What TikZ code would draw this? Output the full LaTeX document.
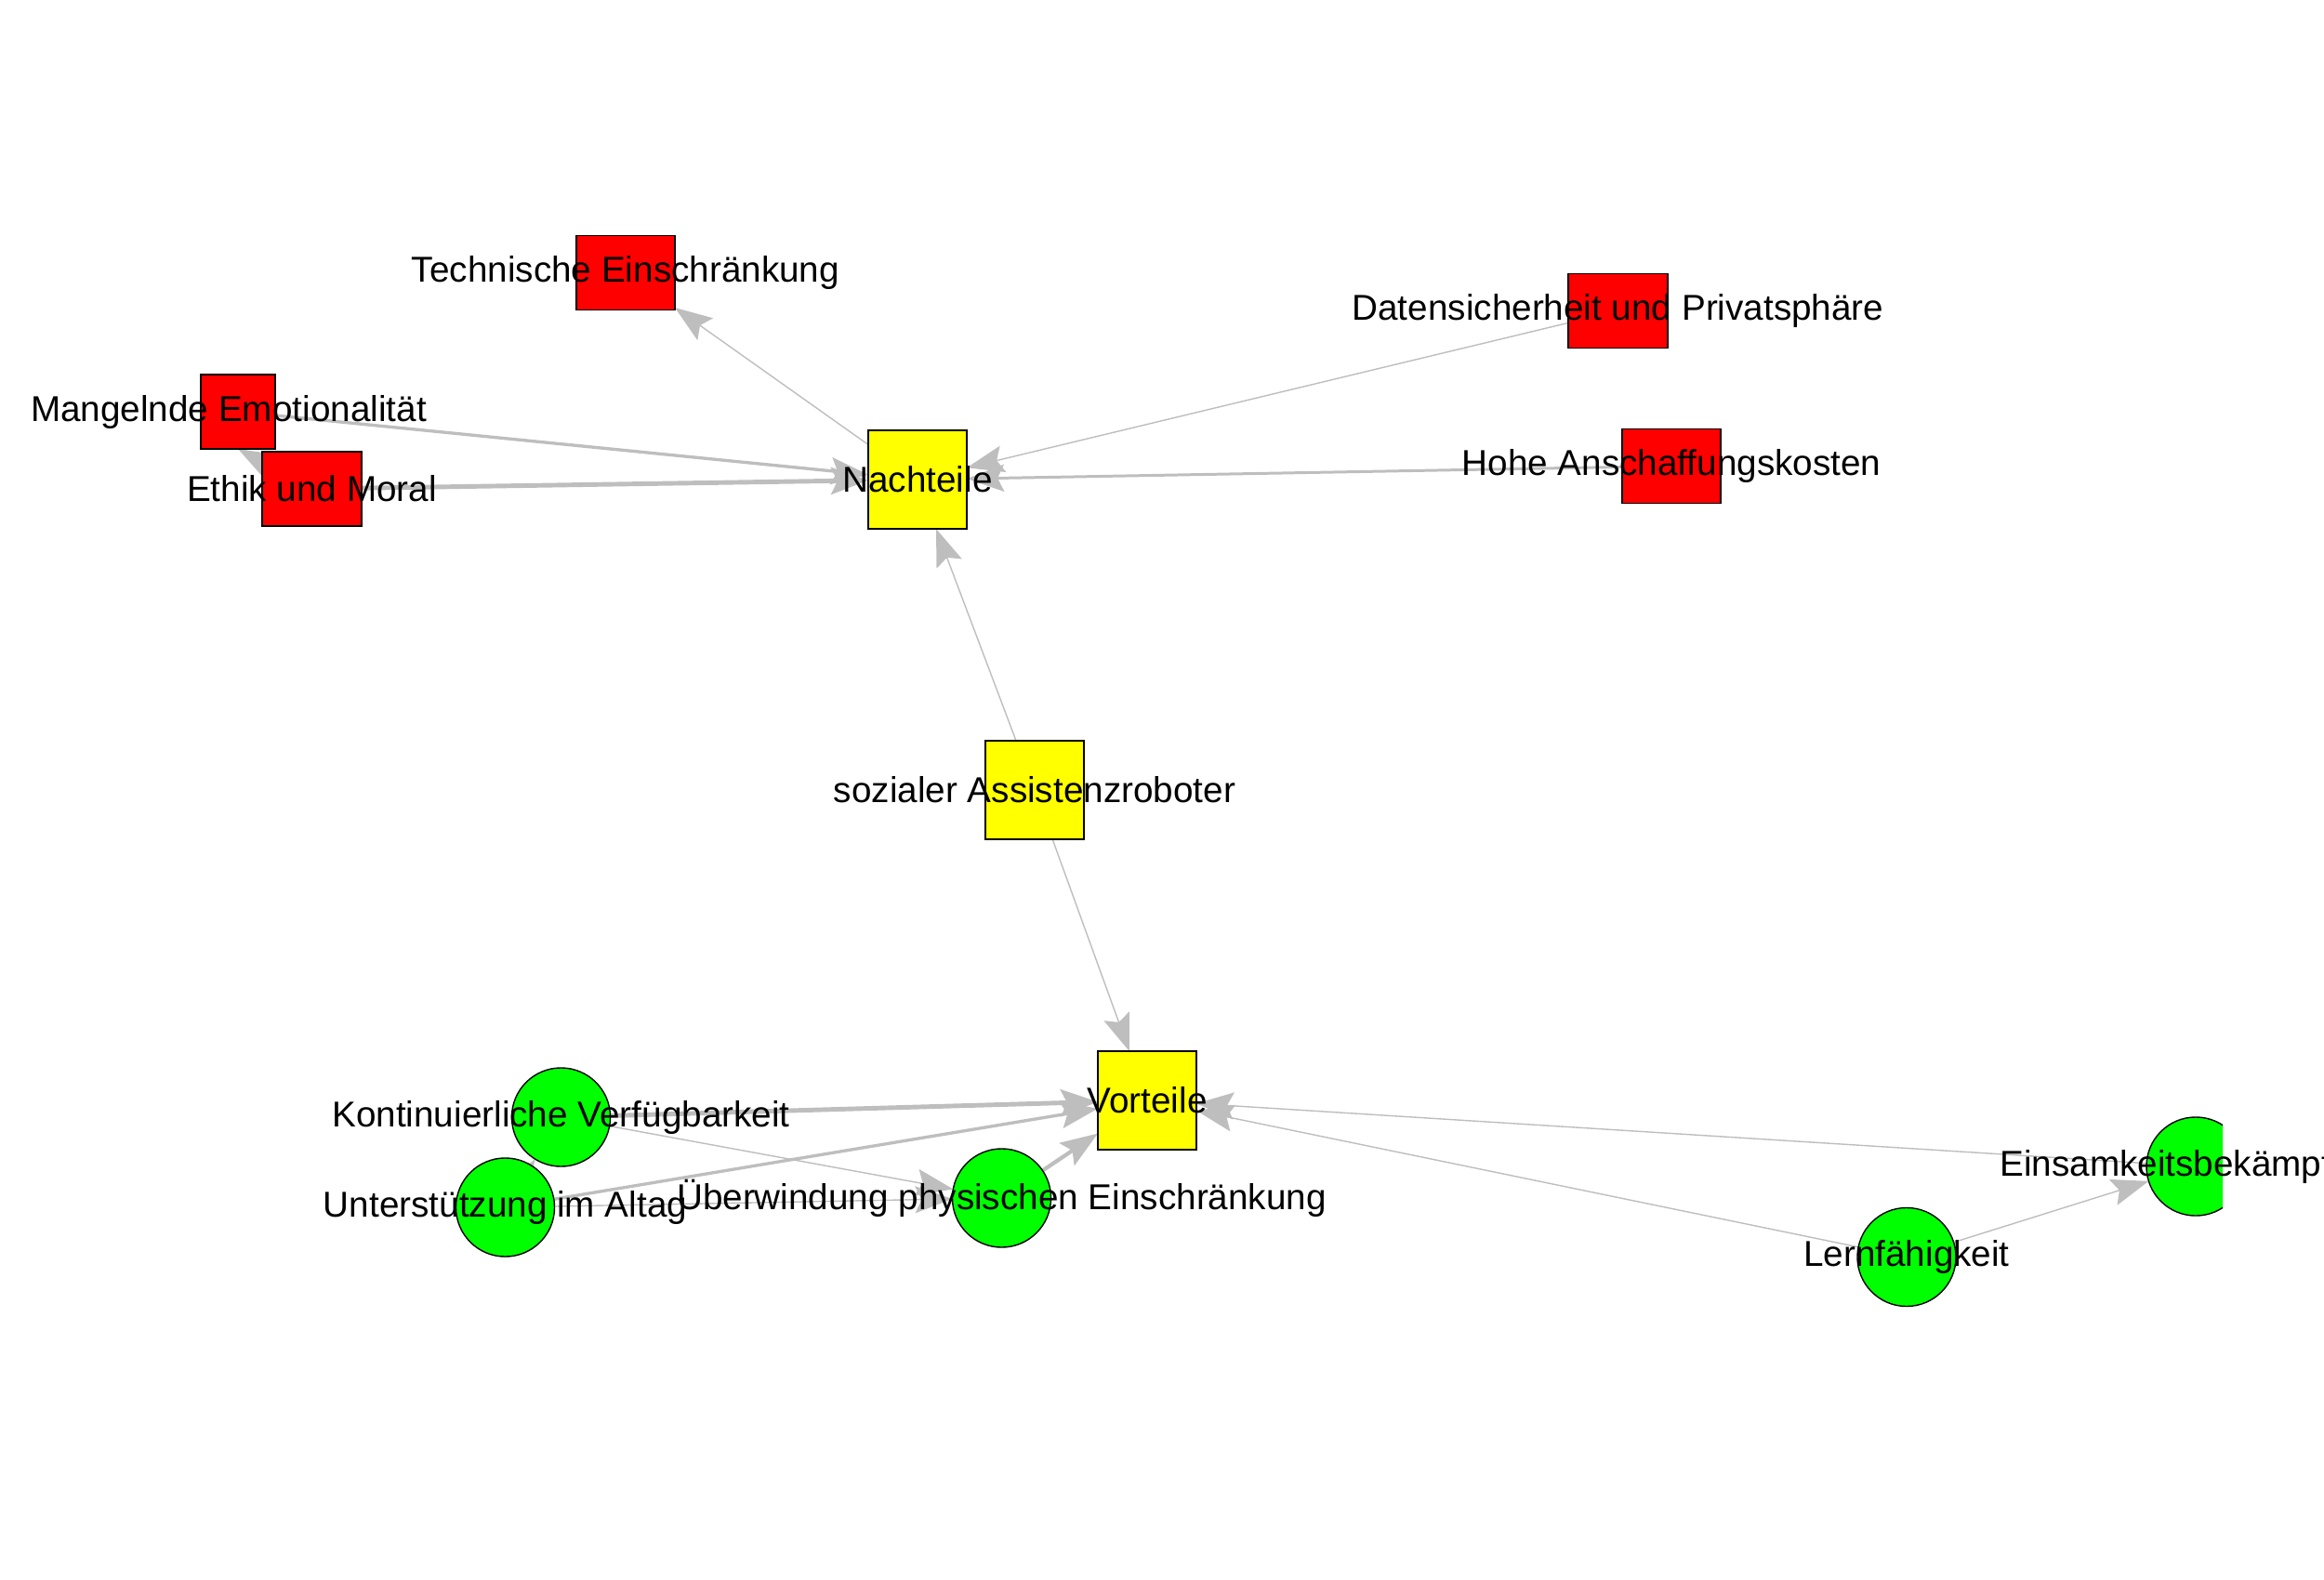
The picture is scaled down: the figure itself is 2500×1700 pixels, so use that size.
\documentclass[tikz,border=0pt]{standalone}
\usepackage{fontspec}
\setmainfont{Liberation Sans}
\usetikzlibrary{arrows.meta}
\pgfdeclarelayer{background}
\pgfsetlayers{background,main}
\definecolor{edgegray}{HTML}{BEBEBE}
\definecolor{negred}{HTML}{FF0000}
\definecolor{hubyellow}{HTML}{FFFF00}
\definecolor{posgreen}{HTML}{00FF00}
\begin{document}
\begin{tikzpicture}[x=0.01cm,y=-0.01cm,
  box/.style={draw=black,line width=0.4pt,rectangle,inner sep=0pt,outer sep=0pt},
  hub/.style={box,fill=hubyellow,minimum width=1.06cm,minimum height=1.06cm},
  con/.style={box,fill=negred,minimum height=0.8cm},
  pro/.style={draw=black,line width=0.4pt,circle,fill=posgreen,minimum size=1.06cm,inner sep=0pt,outer sep=0pt},
  lbl/.style={inner sep=0pt,font=\fontsize{11}{13}\selectfont},
  link/.style={color=edgegray,line width=0.4pt,-{Stealth[length=0.4cm,width=0.29cm,inset=0.07cm]}}
]
\useasboundingbox (0,0) rectangle (2500,1700);

% central nodes
\node[hub] (nachteile) at (987,516) {};
\node[hub] (sozial) at (1113,850) {};
\node[hub] (vorteile) at (1234,1184) {};

% disadvantages
\node[con,minimum width=1.06cm] (technik) at (673,293.5) {};
\node[con,minimum width=0.8cm] (emotion) at (256,443) {};
\node[con,minimum width=1.07cm] (ethik) at (335.5,526) {};
\node[con,minimum width=1.07cm] (daten) at (1740.5,334.5) {};
\node[con,minimum width=1.06cm] (kosten) at (1798,501.5) {};

% advantages
\node[pro] (verfueg) at (603.5,1202) {};
\node[pro] (alltag) at (543.5,1299) {};
\node[pro] (physisch) at (1077.5,1289) {};
\node[pro] (lernen) at (2051,1352.5) {};
\begin{scope}
  \clip (0,0) rectangle (2391,1700);
  \node[pro] (einsam) at (2362,1255) {};
\end{scope}

% connectors, drawn beneath the nodes
\begin{pgfonlayer}{background}
  \draw[link] (nachteile) -- (technik);
  \draw[link,line width=0.95pt] (emotion) -- (nachteile);
  \draw[link] (ethik) -- (emotion.south);
  \draw[link,line width=1.4pt] (ethik) -- (nachteile);
  \draw[link] (daten) -- (nachteile);
  \draw[link,line width=0.85pt] (kosten) -- (nachteile);
  \draw[link] (sozial) -- (nachteile);
  \draw[link] (sozial) -- (vorteile);
  \draw[link,line width=1.4pt] (verfueg) -- (vorteile);
  \draw[link,line width=0.95pt] (alltag) -- (vorteile);
  \draw[link,line width=1.2pt] (physisch) -- (vorteile);
  \draw[link] (verfueg) -- (physisch);
  \draw[link] (alltag) -- (physisch);
  \draw[link,line width=1.1pt] (alltag) -- (verfueg);
  \draw[link] (einsam) -- (vorteile);
  \draw[link] (lernen) -- (vorteile);
  \draw[link] (lernen) -- (einsam);
\end{pgfonlayer}

% labels on top
\node[lbl] (nachteile-l) at (nachteile) {Nachteile};
\node[lbl] (sozial-l) at (sozial) {sozialer Assistenzroboter};
\node[lbl] (vorteile-l) at (vorteile) {Vorteile};
\node[lbl] (technik-l) at (technik) {Technische Einschränkung};
\node[lbl,xshift=-0.1cm] (emotion-l) at (emotion) {Mangelnde Emotionalität};
\node[lbl] (ethik-l) at (ethik) {Ethik und Moral};
\node[lbl] (daten-l) at (daten) {Datensicherheit und Privatsphäre};
\node[lbl] (kosten-l) at (kosten) {Hohe Anschaffungskosten};
\node[lbl] (verfueg-l) at (verfueg) {Kontinuierliche Verfügbarkeit};
\node[lbl] (alltag-l) at (alltag) {Unterstützung im Altag};
\node[lbl] (physisch-l) at (physisch) {Überwindung physischen Einschränkung};
\node[lbl] (lernen-l) at (lernen) {Lernfähigkeit};
\node[lbl] (einsam-l) at (2362,1255) {Einsamkeitsbekämpfung};
\end{tikzpicture}
\end{document}
